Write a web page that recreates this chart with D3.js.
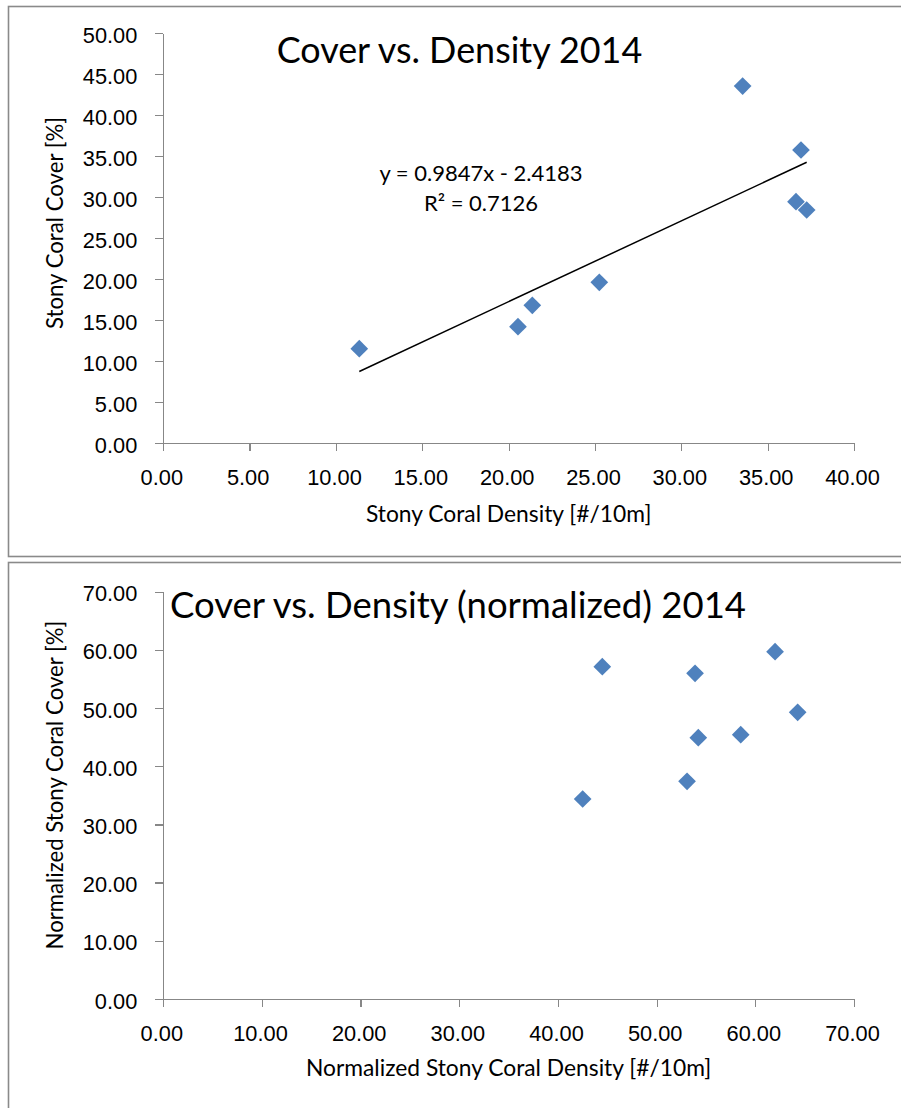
<!DOCTYPE html>
<html>
<head>
<meta charset="utf-8">
<script src="https://cdn.jsdelivr.net/npm/d3@7"></script>
<style>
  html, body { margin: 0; padding: 0; background: #fff; }
  svg { display: block; font-family: Lato, "Open Sans", sans-serif; }
  .axis path, .axis line { stroke: #878787; stroke-width: 1.3; shape-rendering: crispEdges; }
  .axis text { fill: #000; font-size: 21.8px; }
</style>
</head>
<body>
<svg id="chart" width="901" height="1108"></svg>
<script>
// 2014 stony coral survey: raw density vs. cover
const densityRaw = [11.35, 20.54, 21.37, 25.25, 33.55, 36.93, 36.64, 37.26];
const coverRaw   = [11.54, 14.22, 16.83, 19.63, 43.57, 35.77, 29.46, 28.45];

// Same sites, normalized values
const densityNorm = [44.49, 53.89, 62.00, 64.29, 54.22, 58.52, 53.08, 42.50];
const coverNorm   = [57.11, 55.97, 59.69, 49.27, 44.91, 45.43, 37.41, 34.37];

// Linear trend fitted to the raw data
const trendSlope = 0.9847;
const trendIntercept = -2.4183;
const trendR2 = 0.7126;

// Tick values
const rawXTicks  = [0, 5, 10, 15, 20, 25, 30, 35, 40];
const rawYTicks  = [0, 5, 10, 15, 20, 25, 30, 35, 40, 45, 50];
const normXTicks = [0, 10, 20, 30, 40, 50, 60, 70];
const normYTicks = [0, 10, 20, 30, 40, 50, 60, 70];

const svg = d3.select("#chart");
const markerColor = "#4F81BD";
const fmt = d3.format(".2f");

function drawPanel(cfg) {
  const g = svg.append("g");

  // chart frame (right edge runs past the page)
  g.append("rect")
    .attr("x", cfg.frame.x).attr("y", cfg.frame.y)
    .attr("width", cfg.frame.w).attr("height", cfg.frame.h)
    .attr("fill", "#fff").attr("stroke", "#8a8a8a").attr("stroke-width", 1.6);

  const x = d3.scaleLinear().domain(cfg.xDomain).range([cfg.left, cfg.right]);
  const y = d3.scaleLinear().domain(cfg.yDomain).range([cfg.bottom, cfg.top]);

  const yAxis = g.append("g").attr("class", "axis")
    .attr("transform", `translate(${cfg.left},0)`)
    .call(d3.axisLeft(y).tickValues(cfg.yTicks).tickFormat(fmt).tickSize(8).tickSizeOuter(0));
  yAxis.selectAll("text").attr("x", -26).attr("dy", null).attr("y", 9);

  const xAxis = g.append("g").attr("class", "axis")
    .attr("transform", `translate(0,${cfg.bottom})`)
    .call(d3.axisBottom(x).tickValues(cfg.xTicks).tickFormat(fmt).tickSize(8).tickSizeOuter(0));
  xAxis.selectAll("text").attr("dy", null).attr("y", 41.7).attr("dx", -2);

  // axis titles
  g.append("text")
    .attr("x", (cfg.left + cfg.right) / 2)
    .attr("y", cfg.bottom + cfg.xTitleOffset)
    .attr("text-anchor", "middle")
    .attr("font-size", 22.8)
    .text(cfg.xTitle);

  g.append("text")
    .attr("transform", `translate(63,${cfg.yTitleCenter}) rotate(-90)`)
    .attr("text-anchor", "middle")
    .attr("font-size", 22.2)
    .text(cfg.yTitle);

  // chart title
  g.append("text")
    .attr("x", cfg.titleX).attr("y", cfg.titleY)
    .attr("font-size", cfg.titleSize)
    .text(cfg.title);

  return { g, x, y };
}

// ---- Upper panel: raw values with trend line ----
const rawPanel = drawPanel({
  frame: { x: 8.5, y: 6.5, w: 920, h: 550 },
  left: 163.3, right: 854, top: 33.3, bottom: 443.3,
  xDomain: [0, 40], yDomain: [0, 50],
  xTicks: rawXTicks, yTicks: rawYTicks,
  xTitle: "Stony Coral Density [#/10m]",
  yTitle: "Stony Coral Cover [%]",
  xTitleOffset: 78.4, yTitleCenter: 223,
  title: "Cover vs. Density 2014", titleX: 276.7, titleY: 62.7, titleSize: 35.9
});

const rawPoints = densityRaw.map((d, i) => ({ x: d, y: coverRaw[i] }));
const xExtent = d3.extent(densityRaw);
const trendPts = xExtent.map(v => ({ x: v, y: trendSlope * v + trendIntercept }));

rawPanel.g.append("line")
  .attr("x1", rawPanel.x(trendPts[0].x)).attr("y1", rawPanel.y(trendPts[0].y))
  .attr("x2", rawPanel.x(trendPts[1].x)).attr("y2", rawPanel.y(trendPts[1].y))
  .attr("stroke", "#000").attr("stroke-width", 1.5);

const diamond = d3.symbol().type(d3.symbolDiamond2).size(200);

rawPanel.g.selectAll("path.pt").data(rawPoints).join("path")
  .attr("class", "pt")
  .attr("d", diamond)
  .attr("transform", d => `translate(${rawPanel.x(d.x)},${rawPanel.y(d.y)})`)
  .attr("fill", markerColor);

const eq = rawPanel.g.append("text")
  .attr("text-anchor", "middle")
  .attr("font-size", 22);
eq.append("tspan").attr("x", 481).attr("y", 180.7)
  .text(`y = ${trendSlope.toFixed(4)}x - ${Math.abs(trendIntercept).toFixed(4)}`);
eq.append("tspan").attr("x", 481).attr("y", 210.7)
  .text(`R² = ${trendR2.toFixed(4)}`);

// ---- Lower panel: normalized values ----
const normPanel = drawPanel({
  frame: { x: 8.5, y: 562.5, w: 920, h: 600 },
  left: 163.3, right: 854, top: 591.7, bottom: 999,
  xDomain: [0, 70], yDomain: [0, 70],
  xTicks: normXTicks, yTicks: normYTicks,
  xTitle: "Normalized Stony Coral Density [#/10m]",
  yTitle: "Normalized Stony Coral Cover [%]",
  xTitleOffset: 77, yTitleCenter: 785,
  title: "Cover vs. Density (normalized) 2014", titleX: 170, titleY: 617.5, titleSize: 36.5
});

const normPoints = densityNorm.map((d, i) => ({ x: d, y: coverNorm[i] }));
normPanel.g.selectAll("path.pt").data(normPoints).join("path")
  .attr("class", "pt")
  .attr("d", diamond)
  .attr("transform", d => `translate(${normPanel.x(d.x)},${normPanel.y(d.y)})`)
  .attr("fill", markerColor);
</script>
</body>
</html>
